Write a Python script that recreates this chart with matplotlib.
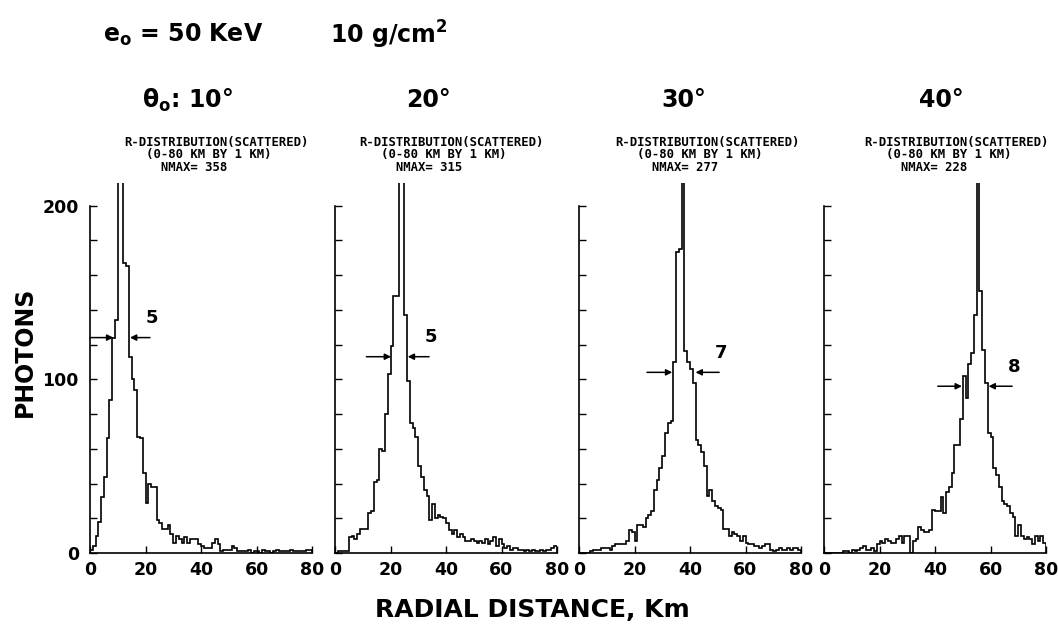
import numpy as np
import matplotlib
matplotlib.use("Agg")
import matplotlib.pyplot as plt
from matplotlib.ticker import MultipleLocator

# photon counts per 1 km radial bin, 0-80 km
r_10 = [2, 4, 10, 18, 32, 44, 66, 88, 124, 134,
        358, 250, 167, 165, 113, 100, 94, 67, 66, 46,
        29, 40, 38, 38, 19, 17, 14, 14, 16, 11,
        6, 10, 8, 6, 9, 6, 8, 8, 8, 5,
        4, 3, 3, 3, 6, 8, 5, 1, 2, 2,
        2, 4, 3, 1, 1, 1, 1, 2, 0, 1,
        1, 0, 2, 1, 1, 0, 1, 2, 1, 1,
        1, 1, 2, 1, 1, 1, 1, 1, 2, 2]
r_20 = [0, 1, 1, 1, 1, 9, 10, 8, 11, 14,
        14, 14, 23, 24, 41, 42, 60, 59, 80, 103,
        119, 148, 148, 315, 240, 137, 99, 75, 72, 67,
        50, 44, 36, 33, 19, 28, 20, 22, 21, 20,
        17, 13, 11, 13, 9, 11, 9, 7, 7, 8,
        7, 6, 7, 6, 8, 5, 7, 9, 4, 8,
        5, 3, 4, 2, 3, 3, 2, 2, 1, 2,
        1, 2, 1, 1, 2, 1, 2, 2, 3, 4]
r_30 = [0, 0, 0, 0, 1, 2, 2, 2, 3, 3,
        3, 2, 4, 5, 5, 5, 5, 7, 13, 12,
        7, 16, 16, 15, 20, 22, 24, 36, 42, 49,
        56, 69, 75, 76, 110, 173, 175, 277, 116, 110,
        106, 98, 65, 62, 58, 50, 33, 36, 30, 27,
        26, 25, 14, 14, 10, 12, 11, 10, 7, 10,
        6, 5, 5, 4, 4, 3, 4, 5, 5, 2,
        1, 2, 3, 2, 2, 3, 2, 3, 3, 2]
r_40 = [0, 0, 0, 0, 0, 0, 0, 1, 1, 0,
        2, 1, 2, 3, 4, 2, 2, 3, 1, 5,
        7, 6, 8, 7, 6, 6, 8, 10, 6, 10,
        10, 0, 7, 8, 15, 13, 12, 12, 13, 25,
        24, 24, 32, 23, 35, 38, 46, 62, 62, 77,
        102, 89, 109, 115, 137, 228, 151, 117, 98, 69,
        67, 49, 45, 38, 30, 28, 27, 23, 21, 10,
        16, 10, 8, 9, 8, 5, 10, 7, 10, 6]

angles = ["10", "20", "30", "40"]
nmax = [358, 315, 277, 228]
# full width at half maximum, km, and the level it is marked at
fwhm = [5, 5, 7, 8]
half_level = [124, 113, 104, 96]
# (left arrow from, to), (right arrow from, to) in km
fwhm_left = [(0, 8.4), (11.3, 20.2), (24.5, 33.6), (41.0, 49.7)]
fwhm_right = [(21.6, 14.4), (33.9, 26.2), (50.5, 42.0), (67.8, 59.3)]

counts = [r_10, r_20, r_30, r_40]
edges = np.arange(81)

W, H = 1058, 636
fig = plt.figure(figsize=(W / 100, H / 100), dpi=100)
plt.rcParams["font.weight"] = "bold"
plt.rcParams["mathtext.fontset"] = "custom"
plt.rcParams["mathtext.bf"] = "DejaVu Sans:bold"

x_left = [90, 335, 579, 824]      # pixel position of each y axis
deg_x = [187, 428, 684, 941]
sub_x = [216, 451, 707, 956]

for i in range(4):
    ax = fig.add_axes([x_left[i] / W, (H - 553) / H, 222 / W, 370 / H])
    ax.stairs(counts[i], edges, baseline=0, color="black", lw=1.2)
    ax.set_xlim(0, 80)
    ax.set_ylim(0, 213)
    for s in ("top", "right"):
        ax.spines[s].set_visible(False)
    ax.spines["left"].set_bounds(0, 200)
    ax.spines["bottom"].set_bounds(0, 80)
    ax.spines["left"].set_linewidth(1.2)
    ax.spines["bottom"].set_linewidth(1.2)
    ax.set_xticks([0, 20, 40, 60, 80])
    ax.set_yticks([0, 100, 200])
    ax.yaxis.set_minor_locator(MultipleLocator(20))
    ax.tick_params(which="both", direction="in", length=5, width=1.0,
                   labelsize=12.5, pad=6)
    ax.tick_params(axis="y", which="major", pad=8)
    if i > 0:
        ax.set_yticklabels([])
    for lab in ax.get_xticklabels() + ax.get_yticklabels():
        lab.set_fontweight("bold")

    # FWHM arrows
    arr = dict(arrowstyle="-|>", color="black", lw=1.1,
               mutation_scale=9, shrinkA=0, shrinkB=0)
    y = half_level[i]
    ax.annotate("", xy=(fwhm_left[i][1], y), xytext=(fwhm_left[i][0], y),
                arrowprops=arr)
    ax.annotate("", xy=(fwhm_right[i][1], y), xytext=(fwhm_right[i][0], y),
                arrowprops=arr)
    ax.text(fwhm_right[i][0] + 0.8, y + 6, str(fwhm[i]), fontsize=13,
            fontweight="bold", ha="center", va="bottom")

    # run header
    hdr = ("R-DISTRIBUTION(SCATTERED)\n   (0-80 KM BY 1 KM)\n     NMAX= %d"
           % nmax[i])
    fig.text(sub_x[i] / W, 1 - 136 / H, hdr, family="DejaVu Sans Mono",
             fontsize=8.8, fontweight="bold", ha="center", va="top",
             linespacing=0.95, multialignment="left")

    label = "%s°" % angles[i]
    if i == 0:
        label = r"$\mathbf{\theta_o}$: " + label
    fig.text(deg_x[i] / W, 1 - 100 / H, label, fontsize=17,
             fontweight="bold", ha="center", va="center")

fig.text(103 / W, 1 - 35 / H, r"$\mathbf{e_o}$ = 50 KeV", fontsize=17,
         fontweight="bold", ha="left", va="center")
fig.text(330 / W, 1 - 35 / H, r"10 g/cm$\mathbf{^2}$", fontsize=17,
         fontweight="bold", ha="left", va="center")
fig.text(25 / W, 1 - 352 / H, "PHOTONS", fontsize=17, fontweight="bold",
         rotation=90, ha="center", va="center")
fig.text(532 / W, 1 - 610 / H, "RADIAL DISTANCE, Km", fontsize=18,
         fontweight="bold", ha="center", va="center")

fig.savefig("out.png", dpi=100)
